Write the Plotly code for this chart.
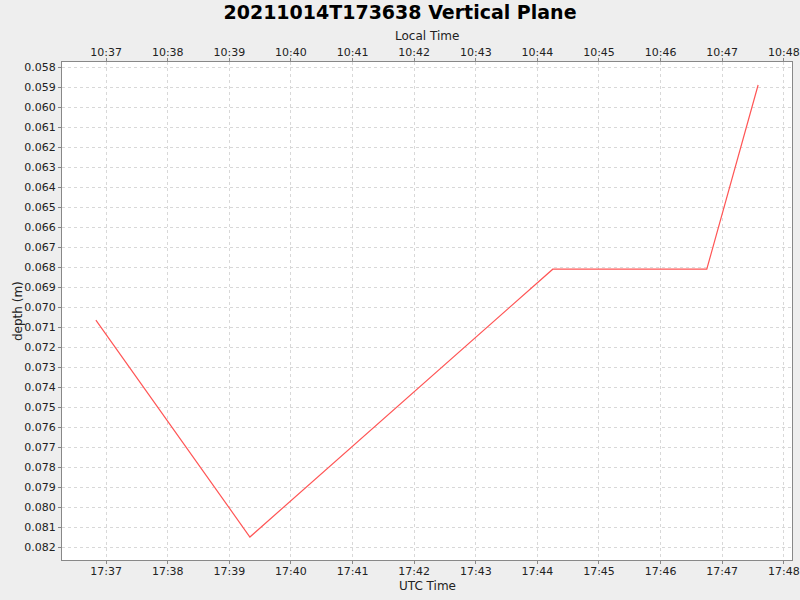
import plotly.graph_objects as go
import pandas as pd

utc_times = ["2021-10-14 17:36:50", "2021-10-14 17:39:20", "2021-10-14 17:44:15",
             "2021-10-14 17:46:45", "2021-10-14 17:47:35"]
depths = [0.07065, 0.08149, 0.0681, 0.0681, 0.05889]
utc_offset_hours = -7

utc = pd.to_datetime(utc_times)
local = utc + pd.Timedelta(hours=utc_offset_hours)

x_range = [pd.Timestamp("2021-10-14 17:36:17"), pd.Timestamp("2021-10-14 17:48:08")]
x2_range = [t + pd.Timedelta(hours=utc_offset_hours) for t in x_range]

font = "DejaVu Sans, Verdana, sans-serif"
grid = "#d8d8d8"
axc = "#888888"
txt = "#222222"

fig = go.Figure()
fig.add_trace(go.Scatter(x=utc, y=depths, mode="lines",
                         line=dict(color="#ff5555", width=1.2), showlegend=False,
                         xaxis="x", yaxis="y"))
fig.add_trace(go.Scatter(x=local, y=depths, mode="lines",
                         line=dict(color="rgba(0,0,0,0)", width=0), showlegend=False,
                         hoverinfo="skip", xaxis="x2", yaxis="y"))

common_x = dict(type="date", dtick=60000, tickformat="%H:%M", ticks="outside",
                ticklen=3, tickcolor=axc, showline=True, linecolor=axc, linewidth=1,
                tickfont=dict(family=font, size=11, color=txt), automargin=False,
                showgrid=True, gridcolor=grid, griddash="3px,3px", gridwidth=1,
                zeroline=False)

fig.update_layout(
    width=800, height=600,
    paper_bgcolor="#eeeeee", plot_bgcolor="white",
    margin=dict(l=62, r=8, t=62, b=40),
    title=dict(text="<b>20211014T173638 Vertical Plane</b>", x=0.5, xanchor="center",
               y=1 - 12 / 600, yanchor="middle",
               font=dict(family=font, size=19, color="black")),
    xaxis=dict(range=x_range, ticklabelstandoff=-2, **common_x),
    xaxis2=dict(range=x2_range, overlaying="x", side="top", ticklabelstandoff=-2,
                **common_x),
    yaxis=dict(range=[0.08264, 0.05774], dtick=0.001, tick0=0.058, tickformat=".3f",
               ticks="outside", ticklen=3, tickcolor=axc, showline=True, linecolor=axc,
               mirror=True, tickfont=dict(family=font, size=11, color=txt),
               automargin=False,
               showgrid=True, gridcolor=grid, griddash="3px,3px", zeroline=False),
    annotations=[
        dict(text="Local Time", xref="paper", yref="paper", x=(427 - 62) / 730,
             y=1 + (62 - 36) / 498, xanchor="center", yanchor="middle",
             showarrow=False, font=dict(family=font, size=12, color=txt)),
        dict(text="UTC Time", xref="paper", yref="paper", x=(427 - 62) / 730,
             y=-(586 - 560) / 498, xanchor="center", yanchor="middle",
             showarrow=False, font=dict(family=font, size=12, color=txt)),
        dict(text="depth (m)", xref="paper", yref="paper", x=-(62 - 18) / 730,
             y=(560 - 311) / 498, xanchor="center", yanchor="middle", textangle=-90,
             showarrow=False, font=dict(family=font, size=12, color=txt)),
    ],
)
fig.write_html("out.html", config={"displayModeBar": False},
               post_script="document.body.style.margin='0';document.body.style.padding='0';document.body.style.overflow='hidden';")
